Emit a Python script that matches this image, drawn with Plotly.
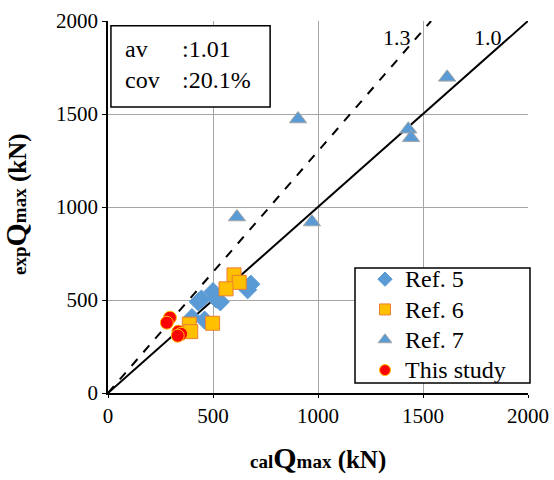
import plotly.graph_objects as go

ref5_x = [430, 445, 460, 400, 500, 515, 535, 665, 680]
ref5_y = [490, 505, 392, 405, 545, 505, 490, 555, 585]
ref6_x = [600, 625, 562, 498, 387, 394]
ref6_y = [635, 595, 560, 375, 370, 330]
ref7_x = [905, 614, 971, 1430, 1443, 1615]
ref7_y = [1473, 946, 919, 1418, 1372, 1697]
this_x = [295, 280, 335, 348, 332]
this_y = [405, 378, 330, 318, 308]
tick_vals = [0, 500, 1000, 1500, 2000]

FONT = "Liberation Serif, Times New Roman, serif"

m5 = dict(symbol="diamond", color="#5B9BD5", line=dict(color="#5B9BD5", width=1))
m6 = dict(symbol="square", color="#FFC000", line=dict(color="#ED7D31", width=1))
m7 = dict(symbol="triangle-up", color="#5B9BD5", line=dict(color="#A5A5A5", width=1))
mt = dict(symbol="circle", color="#FF0000", line=dict(color="#FFC000", width=1))

fig = go.Figure()
fig.add_trace(go.Scatter(x=[0, 2000], y=[0, 2000], mode="lines",
                         line=dict(color="black", width=2), showlegend=False, hoverinfo="skip"))
fig.add_trace(go.Scatter(x=[0, 2000 / 1.3], y=[0, 2000], mode="lines",
                         line=dict(color="black", width=2, dash="dash"), showlegend=False, hoverinfo="skip"))
for xs, ys, m, s in [(ref5_x, ref5_y, m5, 14), (ref6_x, ref6_y, m6, 14),
                     (ref7_x, ref7_y, m7, 15), (this_x, this_y, mt, 13)]:
    fig.add_trace(go.Scatter(x=xs, y=ys, mode="markers", showlegend=False,
                             marker=dict(size=s, **m)))
for name, m, s in [("Ref. 5", m5, 11), ("Ref. 6", m6, 11), ("Ref. 7", m7, 12), ("This study", mt, 11)]:
    fig.add_trace(go.Scatter(x=[None], y=[None], mode="markers",
                             name="<span style='font-size:24px'>" + name + "</span>",
                             marker=dict(size=s, **m)))

fig.add_annotation(x=1376, y=1914, text="1.3", showarrow=False,
                   font=dict(family=FONT, size=22, color="black"), xanchor="center", yanchor="middle")
fig.add_annotation(x=1810, y=1914, text="1.0", showarrow=False,
                   font=dict(family=FONT, size=22, color="black"), xanchor="center", yanchor="middle")

# stats box
fig.add_shape(type="rect", xref="paper", yref="paper", x0=0.007, x1=0.386, y0=0.769, y1=0.987,
              line=dict(color="black", width=1.5), fillcolor="white", layer="above")
for xx, yy, t in [(0.040, 0.925, "av"), (0.040, 0.841, "cov"),
                  (0.176, 0.925, ":1.01"), (0.176, 0.841, ":20.1%")]:
    fig.add_annotation(xref="paper", yref="paper", x=xx, y=yy, text=t, showarrow=False,
                       xanchor="left", yanchor="middle", xshift=-2,
                       font=dict(family=FONT, size=24, color="black"))

# legend box
fig.add_shape(type="rect", xref="paper", yref="paper", x0=(355 - 108) / 420, x1=(530 - 108) / 420,
              y0=(393 - 383) / 372, y1=(393 - 268) / 372,
              line=dict(color="black", width=1.5), fillcolor="white", layer="above")

fig.add_annotation(xref="paper", yref="paper", x=(318 - 108) / 420, y=(393 - 457) / 372,
                   text="<b><span style='font-size:19px'>cal</span><span style='font-size:30px'>Q</span>"
                        "<span style='font-size:19px'>max</span> (kN)</b>",
                   showarrow=False, xanchor="center", yanchor="middle",
                   font=dict(family=FONT, size=25, color="black"))
fig.add_annotation(xref="paper", yref="paper", x=(15 - 108) / 420, y=(393 - 204) / 372,
                   text="<b><span style='font-size:19px'>exp</span><span style='font-size:30px'>Q</span>"
                        "<span style='font-size:19px'>max</span> (kN)</b>",
                   showarrow=False, xanchor="center", yanchor="middle", textangle=-90,
                   font=dict(family=FONT, size=25, color="black"))

fig.update_layout(
    width=554, height=480,
    margin=dict(l=108, r=26, t=21, b=87),
    paper_bgcolor="white", plot_bgcolor="white",
    font=dict(family=FONT, size=21, color="black"),
    legend=dict(x=(365 - 108) / 420, y=(393 - 259) / 372, xanchor="left", yanchor="top",
                bgcolor="rgba(0,0,0,0)", borderwidth=0,
                font=dict(family=FONT, size=21, color="black"),
                itemwidth=30, tracegroupgap=0),
    xaxis=dict(range=[0, 2000], tickvals=tick_vals, showgrid=True, gridcolor="#A6A6A6", gridwidth=1,
               zeroline=False, showline=True, linecolor="black", linewidth=1.5, automargin=False,
               ticklabeloverflow="allow",
               ticks="outside", ticklen=3, tickcolor="black", tickfont=dict(family=FONT, size=21)),
    yaxis=dict(range=[0, 2000], tickvals=tick_vals, showgrid=True, gridcolor="#A6A6A6", gridwidth=1,
               zeroline=False, showline=True, linecolor="black", linewidth=1.5, automargin=False,
               ticklabeloverflow="allow",
               ticks="outside", ticklen=4, tickcolor="black", tickfont=dict(family=FONT, size=21)),
)

fig.write_html("out.html", config={"displayModeBar": False},
               post_script="document.body.style.margin='0';document.body.style.overflow='hidden';")
